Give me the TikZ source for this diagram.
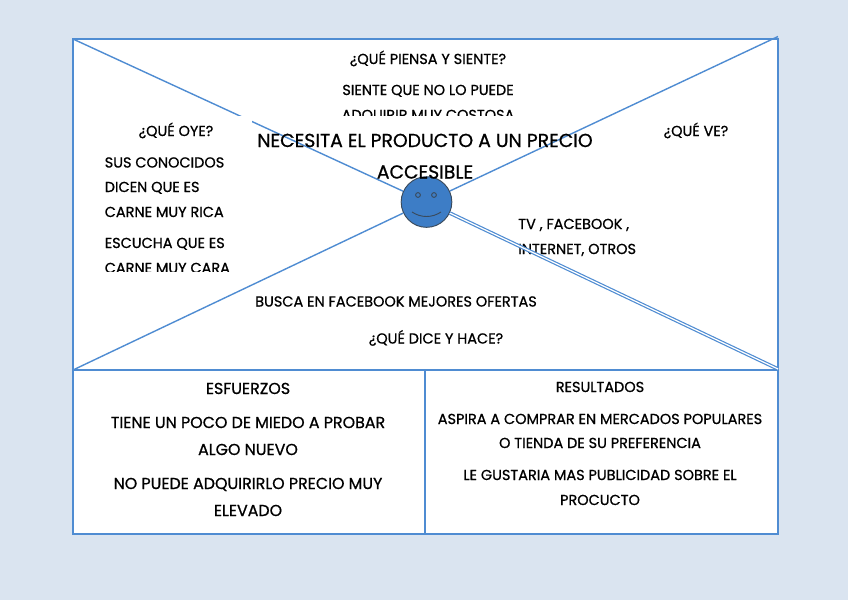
\documentclass[tikz,border=0pt]{standalone}
\usepackage{fontspec}
\setmainfont{Poppins}[RawFeature={embolden=0.8}]
\definecolor{pagebg}{HTML}{DAE4F0}
\definecolor{mapline}{HTML}{4F8CD2}
\definecolor{facefill}{HTML}{3D7DC6}
\definecolor{facedraw}{HTML}{3A4A5C}
\tikzset{
	mapbox/.style={draw=mapline,line width=1.1pt},
	mapdiag/.style={draw=mapline,line width=1.05pt},
	maptext/.style={font=\fontsize{10.85pt}{12pt}\selectfont,inner sep=0pt,anchor=base},
	lefttext/.style={maptext,anchor=base west},
	bigtext/.style={font=\fontsize{14.1pt}{16pt}\selectfont,inner sep=0pt,anchor=base},
	lowtext/.style={font=\fontsize{11.9pt}{13pt}\selectfont,inner sep=0pt,anchor=base},
	facepart/.style={draw=facedraw,line width=0.7pt},
}
\begin{document}
\begin{tikzpicture}[x=0.75pt,y=-0.75pt]
	\useasboundingbox (0,0) rectangle (848,600);
	\fill[pagebg] (0,0) rectangle (848,600);
	\fill[white] (73,39) rectangle (778,534);
	\coordinate (topleft) at (73,39);
	\coordinate (topright) at (778,36.5);
	\coordinate (lowleft) at (73,370);
	\coordinate (lowright) at (778,369);
	% boxes
	\draw[mapbox] (73,39) rectangle (778,370);
	\draw[mapbox] (73,370) rectangle (425,534);
	\draw[mapbox] (425,370) rectangle (778,534);
	% upper texts
	\node[maptext] (piensa) at (428,64) {¿QUÉ PIENSA Y SIENTE?};
	\node[maptext] (siente) at (428,95) {SIENTE QUE NO LO PUEDE};
	\begin{scope}
		\clip (300,100) rectangle (560,115.5);
		\node[maptext] (adquirir) at (428,120) {ADQUIRIR MUY COSTOSA};
	\end{scope}
	\node[maptext] (oye) at (176,136) {¿QUÉ OYE?};
	\node[lefttext] (conocidos) at (104.5,167.5) {SUS CONOCIDOS};
	\node[lefttext] (dicen) at (104.5,192) {DICEN QUE ES};
	\node[lefttext] (rica) at (104.5,217) {CARNE MUY RICA};
	\node[lefttext] (escucha) at (104.5,248) {ESCUCHA QUE ES};
	\begin{scope}
		\clip (95,260) rectangle (240,271);
		\node[lefttext] (cara) at (104.5,273) {CARNE MUY CARA};
	\end{scope}
	\node[maptext] (ve) at (696,136) {¿QUÉ VE?};
	\node[lefttext] (tv) at (518,229) {TV , FACEBOOK ,};
	\node[lefttext] (internet) at (518,254) {INTERNET, OTROS};
	\node[maptext] (busca) at (396,306.5) {BUSCA EN FACEBOOK MEJORES OFERTAS};
	\node[maptext] (dice) at (436,343.5) {¿QUÉ DICE Y HACE?};
	% the face
	\node[circle,draw=facedraw,fill=facefill,line width=0.7pt,minimum size=38pt,inner sep=0pt] (face) at (426.5,202) {};
	\draw[mapdiag] (topleft) -- (face);
	\draw[mapdiag] (topright) -- (face);
	\draw[mapdiag] (lowleft) -- (face);
	\draw[mapdiag,double=white,double distance=0.9pt,line width=0.9pt] (lowright) -- (face);
	\fill[white] (238,116) rectangle (252,124.5);
	\draw[facepart] (418,195) circle (2.4);
	\draw[facepart] (434,195) circle (2.4);
	\draw[facepart] (412,212) .. controls (421,218) and (432,218) .. (441,212);
	% centre text
	\node[bigtext] (necesita) at (425,147) {NECESITA EL PRODUCTO A UN PRECIO};
	\node[bigtext] (accesible) at (425,178.5) {ACCESIBLE};
	% lower boxes
	\node[lowtext] (esfuerzos) at (248,394) {ESFUERZOS};
	\node[lowtext] (miedo) at (248,428) {TIENE UN POCO DE MIEDO A PROBAR};
	\node[lowtext] (nuevo) at (248,455) {ALGO NUEVO};
	\node[lowtext] (adquirirlo) at (248,489) {NO PUEDE ADQUIRIRLO PRECIO MUY};
	\node[lowtext] (elevado) at (248,516) {ELEVADO};
	\node[maptext] (resultados) at (600,392) {RESULTADOS};
	\node[maptext] (aspira) at (600,424) {ASPIRA A COMPRAR EN MERCADOS POPULARES};
	\node[maptext] (tienda) at (600,448) {O TIENDA DE SU PREFERENCIA};
	\node[maptext] (gustaria) at (600,480) {LE GUSTARIA MAS PUBLICIDAD SOBRE EL};
	\node[maptext] (procucto) at (600,505) {PROCUCTO};
\end{tikzpicture}
\end{document}
